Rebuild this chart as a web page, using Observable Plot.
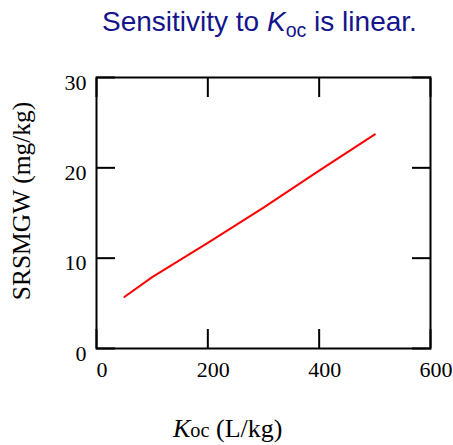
<!DOCTYPE html>
<html>
<head>
<meta charset="utf-8">
<script src="https://cdn.jsdelivr.net/npm/d3@7"></script>
<script src="https://cdn.jsdelivr.net/npm/@observablehq/plot@0.6"></script>
<style>
  html, body { margin: 0; padding: 0; background: white; }
  #wrap { position: relative; width: 453px; height: 445px; overflow: hidden; background: white; }
  #title { position: absolute; left: 102px; top: 8px; white-space: nowrap; font-family: "Liberation Sans", Arial, sans-serif; font-size: 28px; line-height: 28px; color: #14148c; }
  #chart { position: absolute; left: 0; top: 50px; }
  .sub { font-size: 0.7em; position: relative; top: 0.3em; }
  #xlabel { position: absolute; left: 173px; top: 416px; white-space: nowrap; font-family: "Liberation Serif", "Times New Roman", serif; font-size: 26px; line-height: 26px; color: black; }
  #ylabel { position: absolute; left: 22px; top: 201px; white-space: nowrap; font-family: "Liberation Serif", "Times New Roman", serif; font-size: 25.5px; line-height: 25.5px; color: black; transform: translate(-50%, -50%) rotate(-90deg); }
</style>
</head>
<body>
<div id="wrap">
  <div id="title">Sensitivity to <i>K</i><span class="sub">oc</span> is linear.</div>
  <div id="chart"></div>
  <div id="xlabel"><i>K</i><span style="font-size:0.78em">oc</span> (L/kg)</div>
  <div id="ylabel">SRSMGW (mg/kg)</div>
</div>
<script>
const koc = [50, 100, 200, 300, 400, 500];
const srsmgw = [5.7, 7.9, 11.7, 15.6, 19.7, 23.7];
const xTicks = [0, 200, 400, 600];
const yTicks = [0, 10, 20, 30];

const data = koc.map((k, i) => ({koc: k, srsmgw: srsmgw[i]}));
const serif = '"Liberation Serif", "Times New Roman", serif';

const chart = Plot.plot({
  width: 453,
  height: 395,
  marginTop: 27,
  marginBottom: 97,
  marginLeft: 96,
  marginRight: 23,
  style: {fontFamily: serif, fontSize: "22px", background: "white", overflow: "visible"},
  x: {domain: [0, 600]},
  y: {domain: [0, 30]},
  marks: [
    Plot.line(data, {x: "koc", y: "srsmgw", stroke: "#ff0000", strokeWidth: 2}),
    Plot.axisX(xTicks, {anchor: "bottom", tickSize: -19, tickFormat: () => "", strokeWidth: 2, label: null}),
    Plot.axisX(xTicks, {anchor: "top", tickSize: -19, tickFormat: () => "", strokeWidth: 2, label: null}),
    Plot.axisY(yTicks, {anchor: "left", tickSize: -19, tickFormat: () => "", strokeWidth: 2, label: null}),
    Plot.axisY(yTicks, {anchor: "right", tickSize: -19, tickFormat: () => "", strokeWidth: 2, label: null}),
    Plot.axisX(xTicks, {anchor: "bottom", tickSize: 0, tickPadding: 13, dx: 5.5, fontSize: 22, fontFamily: serif, label: null}),
    Plot.axisY(yTicks, {anchor: "left", tickSize: 0, tickPadding: 10, dy: 5, fontSize: 22, fontFamily: serif, label: null}),
    Plot.frame({stroke: "black", strokeWidth: 2})
  ]
});
document.getElementById("chart").appendChild(chart);
</script>
</body>
</html>
